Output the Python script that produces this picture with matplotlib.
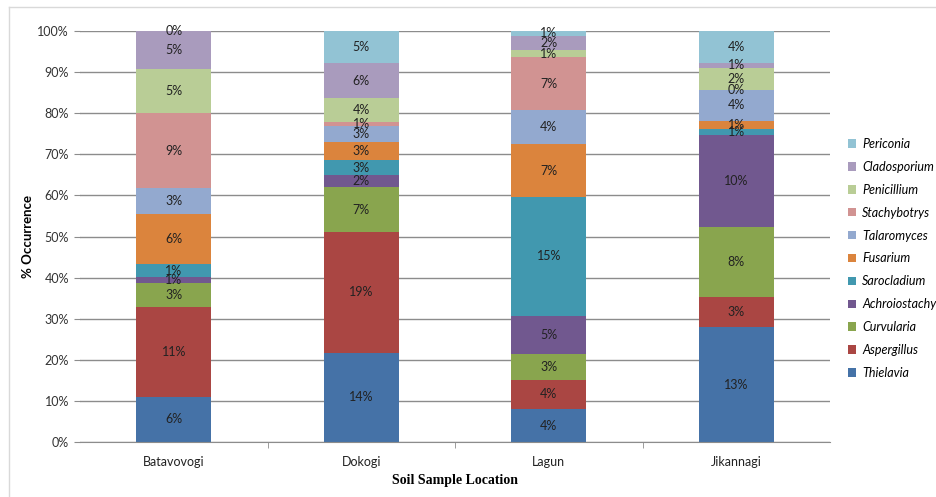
import numpy as np
import matplotlib
matplotlib.use("Agg")
import matplotlib.pyplot as plt
from matplotlib.patches import Patch
from matplotlib.lines import Line2D

plt.rcParams['font.family'] = ['Lato', 'DejaVu Sans']

# locations
locations = ['Batavovogi', 'Dokogi', 'Lagun', 'Jikannagi']

# fungi, bottom to top of the stack
fungi = ['Thielavia', 'Aspergillus', 'Curvularia', 'Achroiostachys', 'Sarocladium',
         'Fusarium', 'Talaromyces', 'Stachybotrys', 'Penicillium', 'Cladosporium', 'Periconia']

# segment heights (share of the bar, %)
thielavia      = [11.1, 21.8,  8.1, 27.9]
aspergillus    = [21.8, 29.2,  7.1,  7.5]
curvularia     = [ 5.7, 11.0,  6.3, 16.8]
achroiostachys = [ 1.6,  2.9,  9.3, 22.5]
sarocladium    = [ 3.0,  3.7, 28.7,  1.3]
fusarium       = [12.2,  4.4, 13.0,  2.0]
talaromyces    = [ 6.3,  3.8,  8.2,  7.7]
stachybotrys   = [18.2,  1.0, 12.9,  0.0]
penicillium    = [10.7,  5.8,  1.7,  5.3]
cladosporium   = [ 9.4,  8.5,  3.5,  1.2]
periconia      = [ 0.0,  7.9,  1.2,  7.8]

# labels printed on the segments
lbl_thielavia      = [6, 14, 4, 13]
lbl_aspergillus    = [11, 19, 4, 3]
lbl_curvularia     = [3, 7, 3, 8]
lbl_achroiostachys = [1, 2, 5, 10]
lbl_sarocladium    = [1, 3, 15, 1]
lbl_fusarium       = [6, 3, 7, 1]
lbl_talaromyces    = [3, 3, 4, 4]
lbl_stachybotrys   = [9, 1, 7, 0]
lbl_penicillium    = [5, 4, 1, 2]
lbl_cladosporium   = [5, 6, 2, 1]
lbl_periconia      = [0, 5, 1, 4]

colors = ['#4572A7', '#AA4643', '#89A54E', '#71588F', '#4198AF', '#DB843D',
          '#93A9CF', '#D19392', '#B9CD96', '#A99BBD', '#92C3D4']

values = [thielavia, aspergillus, curvularia, achroiostachys, sarocladium, fusarium,
          talaromyces, stachybotrys, penicillium, cladosporium, periconia]
labels = [lbl_thielavia, lbl_aspergillus, lbl_curvularia, lbl_achroiostachys, lbl_sarocladium,
          lbl_fusarium, lbl_talaromyces, lbl_stachybotrys, lbl_penicillium, lbl_cladosporium,
          lbl_periconia]

fig = plt.figure(figsize=(9.36, 4.97), dpi=100)
ax = fig.add_axes([80/936, 1-442.3/497, 750/936, 411.6/497])

x = np.arange(len(locations))
bottom = np.zeros(len(locations))
for name, v, lb, c in zip(fungi, values, labels, colors):
    v = np.array(v)
    ax.bar(x, v, 0.4, bottom=bottom, color=c, label=name, zorder=2)
    for xi, b, h, t in zip(x, bottom, v, lb):
        ax.text(xi, b + h/2, f'{t}%', ha='center', va='center', fontsize=9, color='#222222', zorder=3)
    bottom += v

ax.set_xlim(-0.5, 3.5)
ax.set_ylim(0, 100)
ax.set_yticks(np.arange(0, 101, 10))
ax.set_yticklabels([f'{t}%' for t in range(0, 101, 10)], fontsize=9, color='#333333')
ax.yaxis.grid(True, color='#8c8c8c', linewidth=1.0, zorder=0)
ax.set_axisbelow(True)
ax.set_xticks(x)
ax.set_xticklabels(locations, fontsize=9, color='#222222')
ax.tick_params(axis='x', length=0, pad=10)
ax.tick_params(axis='y', length=4, color='#8c8c8c', pad=4)
# minor ticks between categories on the x axis
ax.set_xticks(np.arange(0.5, 3.5, 1), minor=True)
ax.tick_params(axis='x', which='minor', length=4, color='#8c8c8c', direction='out')
for s in ['top', 'right', 'left']:
    ax.spines[s].set_visible(False)
ax.spines['bottom'].set_color('#8c8c8c')

ax.set_ylabel('% Occurrence', fontsize=9.5, fontweight='bold', labelpad=2)
ax.set_xlabel('Soil Sample Location', fontsize=10, fontweight='bold',
              family='Liberation Serif', labelpad=4)

handles = [Patch(facecolor=c, edgecolor='none') for c in colors][::-1]
fig.legend(handles, fungi[::-1], loc='upper left', bbox_to_anchor=(843/936, 1-133/497),
           frameon=False, prop={'style': 'italic', 'size': 9},
           handlelength=0.65, handleheight=0.65, handletextpad=0.5, labelspacing=0.87,
           borderaxespad=0)

# chart frame
fig.add_artist(Line2D([9/936, 1], [1-7/497, 1-7/497], color='#d9d9d9', linewidth=1))
fig.add_artist(Line2D([9/936, 9/936], [0, 1-7/497], color='#d9d9d9', linewidth=1))

fig.savefig('out.png', dpi=100)
